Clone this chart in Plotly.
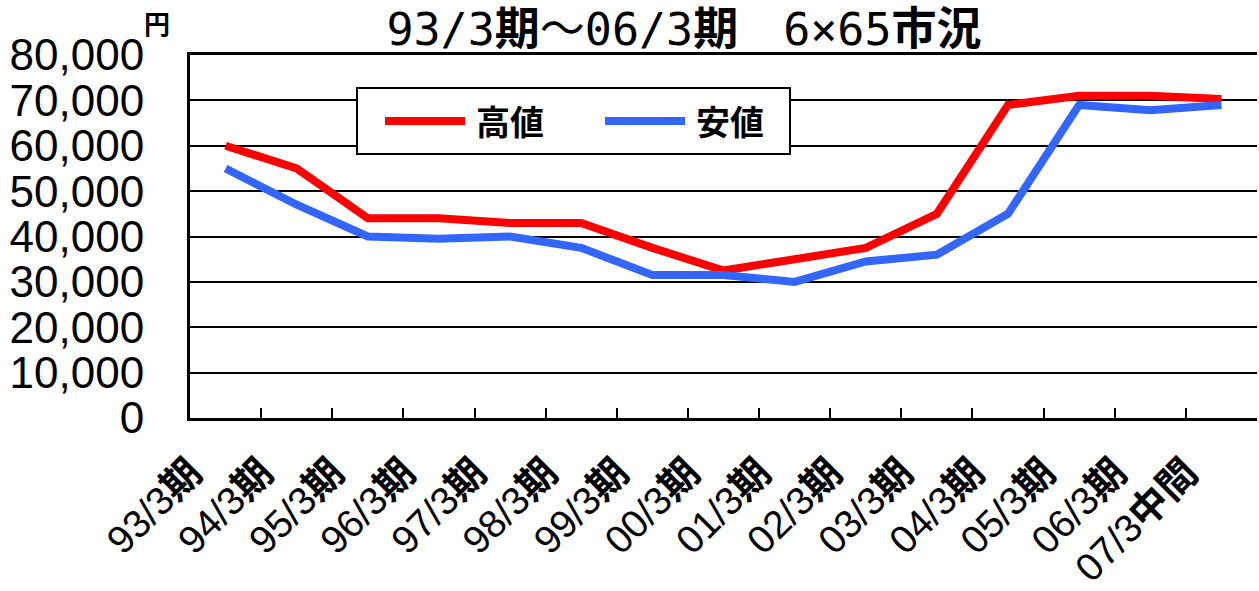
import plotly.graph_objects as go

categories = ["93/3期", "94/3期", "95/3期", "96/3期", "97/3期", "98/3期", "99/3期",
              "00/3期", "01/3期", "02/3期", "03/3期", "04/3期", "05/3期", "06/3期", "07/3中間"]
tick_labels = ["93/3<b>期</b>", "94/3<b>期</b>", "95/3<b>期</b>", "96/3<b>期</b>", "97/3<b>期</b>",
               "98/3<b>期</b>", "99/3<b>期</b>", "00/3<b>期</b>", "01/3<b>期</b>", "02/3<b>期</b>",
               "03/3<b>期</b>", "04/3<b>期</b>", "05/3<b>期</b>", "06/3<b>期</b>", "07/3<b>中間</b>"]
high_values = [60000, 55000, 44000, 44000, 43000, 43000, 37500, 32500, 35000, 37500,
               45000, 69000, 71000, 71000, 70300]
low_values = [55000, 47000, 40000, 39500, 40000, 37500, 31500, 31500, 30000, 34500,
              36000, 45000, 69000, 67800, 69000]
series_names = ["高値", "安値"]
series_colors = ["#FF0000", "#3366FF"]
y_ticks = [0, 10000, 20000, 30000, 40000, 50000, 60000, 70000, 80000]

NUM_FONT = "Liberation Sans, Arial, Noto Sans CJK JP"
CJK_FONT = "Noto Sans CJK JP, Liberation Sans"
MONO_FONT = "DejaVu Sans Mono, Noto Sans CJK JP"

title_text = "93/3<b>期</b>～06/3<b>期</b>　6×65<b>市況</b>"

fig = go.Figure()
for name, vals, col in zip(series_names, [high_values, low_values], series_colors):
    fig.add_trace(go.Scatter(x=categories, y=vals, name=name, mode="lines",
                             line=dict(color=col, width=8), showlegend=False))

fig.update_layout(
    width=1259, height=591,
    margin=dict(l=190, r=2, t=55, b=173),
    paper_bgcolor="white", plot_bgcolor="white",
    title=dict(text=title_text, x=684/1259, xanchor="center",
               y=1-29/591, yanchor="middle", yref="container",
               font=dict(family=MONO_FONT, size=45, color="black")),
    xaxis=dict(type="category", categoryorder="array", categoryarray=categories,
               tickmode="array", tickvals=categories, ticktext=tick_labels,
               tickangle=-45, tickson="boundaries", ticks="inside", ticklen=10,
               tickwidth=2, tickcolor="black", showline=True, linecolor="black",
               linewidth=3, mirror=True, showgrid=False, ticklabelstandoff=13,
               ticklabelshift=-35, automargin=False,
               tickfont=dict(family=NUM_FONT, size=39, color="black"),
               range=[-0.5, len(categories) - 0.5]),
    yaxis=dict(range=[0, 80000], tickvals=y_ticks, tickformat=",", showgrid=True,
               gridcolor="black", gridwidth=2, showline=True, linecolor="black",
               linewidth=3, ticks="", zeroline=False, ticklabelstandoff=34,
               automargin=False,
               tickfont=dict(family=NUM_FONT, size=44, color="black")),
)

# unit label
fig.add_annotation(text="<b>円</b>", xref="paper", yref="paper", x=(157-190)/1067,
                   y=(418-22)/363, showarrow=False, xanchor="center", yanchor="middle",
                   font=dict(family=CJK_FONT, size=26, color="black"))

# manual legend box
x0, x1 = (357-190)/1067, (790-190)/1067
y0, y1 = (418-154)/363, (418-88)/363
fig.add_shape(type="rect", xref="paper", yref="paper", x0=x0, x1=x1, y0=y0, y1=y1,
              line=dict(color="black", width=2), fillcolor="white", layer="above")
ym = (418-121)/363
legend_pos = [(385, 465, 474), (605, 685, 694)]
for (lx0, lx1, tx), name, col in zip(legend_pos, series_names, series_colors):
    fig.add_shape(type="line", xref="paper", yref="paper", x0=(lx0-190)/1067,
                  x1=(lx1-190)/1067, y0=ym, y1=ym, line=dict(color=col, width=8),
                  layer="above")
    fig.add_annotation(text="<b>" + name + "</b>", xref="paper", yref="paper",
                       x=(tx-190)/1067, y=ym, showarrow=False, xanchor="left",
                       yanchor="middle", font=dict(family=CJK_FONT, size=34, color="black"))

fig.write_html("out.html", config={"displayModeBar": False},
               post_script="document.body.style.margin='0';")
